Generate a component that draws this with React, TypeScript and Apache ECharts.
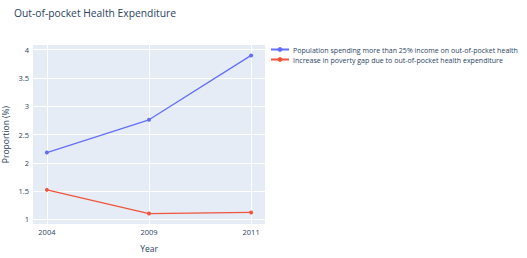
import React, { useEffect, useRef } from "react";
import * as echarts from "echarts";

const years = ["2004", "2009", "2011"];
const populationSpending = [2.18, 2.76, 3.9];
const povertyGapIncrease = [1.52, 1.1, 1.12];
const yTicks = [1, 1.5, 2, 2.5, 3, 3.5, 4];
const seriesNames = [
  "Population spending more than 25% income on out-of-pocket health",
  "Increase in poverty gap due to out-of-pocket health expenditure",
];

const FONT = "'Open Sans', 'Noto Sans', sans-serif";
const TXT = "#2a3f5f";

export default function App() {
  const ref = useRef<HTMLDivElement>(null);
  useEffect(() => {
    if (!ref.current) return;
    const chart = echarts.init(ref.current, undefined, { renderer: "svg" });
    const idx = years.map((_, i) => i);
    chart.setOption({
      animation: false,
      backgroundColor: "#ffffff",
      title: {
        text: "Out-of-pocket Health Expenditure",
        left: 14,
        top: 8,
        padding: 0,
        textStyle: { fontFamily: FONT, fontSize: 10.3, fontWeight: "normal", color: TXT },
      },
      legend: {
        orient: "vertical",
        left: 270,
        top: 46,
        padding: 0,
        itemWidth: 18,
        itemHeight: 6,
        itemGap: 3,
        textStyle: { fontFamily: FONT, fontSize: 7.05, color: TXT, padding: [0, 0, 0, -1] },
      },
      grid: { left: 31, top: 45, width: 234, height: 188, containLabel: false, backgroundColor: "#E5ECF6", show: true, borderWidth: 0 },
      xAxis: {
        type: "value",
        min: -0.136,
        max: 2.136,
        name: "Year",
        nameLocation: "middle",
        nameGap: 20,
        nameTextStyle: { fontFamily: FONT, fontSize: 8.5, color: TXT },
        axisLine: { show: false },
        axisTick: { show: false, customValues: idx },
        axisLabel: {
          customValues: idx,
          formatter: (v: number) => years[Math.round(v)] ?? "",
          fontFamily: FONT, fontSize: 7.5, color: TXT, margin: 4,
        },
        splitLine: { show: true, lineStyle: { color: "#ffffff", width: 1 } },
      },
      yAxis: {
        type: "value",
        min: 0.916,
        max: 4.084,
        name: "Proportion (%)",
        nameLocation: "middle",
        nameGap: 23,
        nameTextStyle: { fontFamily: FONT, fontSize: 8.5, color: TXT },
        axisLine: { show: false },
        axisTick: { show: false, customValues: yTicks },
        axisLabel: { customValues: yTicks, fontFamily: FONT, fontSize: 7.5, color: TXT, margin: 4 },
        splitLine: { show: true, lineStyle: { color: "#ffffff", width: 1 } },
      },
      series: [
        {
          name: seriesNames[0],
          type: "line",
          data: populationSpending.map((v, i) => [i, v]),
          symbol: "circle",
          symbolSize: 4,
          lineStyle: { color: "#636efa", width: 1.3 },
          itemStyle: { color: "#636efa" },
        },
        {
          name: seriesNames[1],
          type: "line",
          data: povertyGapIncrease.map((v, i) => [i, v]),
          symbol: "circle",
          symbolSize: 4,
          lineStyle: { color: "#EF553B", width: 1.3 },
          itemStyle: { color: "#EF553B" },
        },
      ],
    });
    return () => chart.dispose();
  }, []);
  return <div ref={ref} style={{ position: "fixed", left: 0, top: 0, width: 527, height: 258 }} />;
}
